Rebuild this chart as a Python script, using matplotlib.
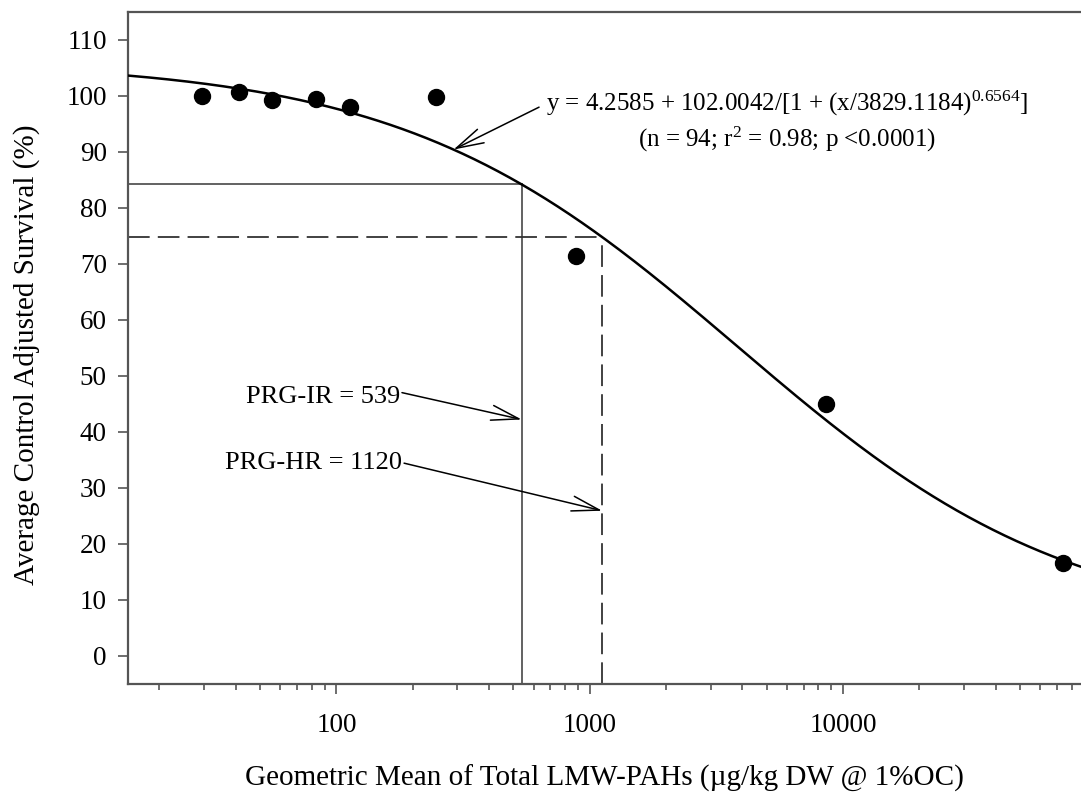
import numpy as np
import matplotlib
matplotlib.use("Agg")
import matplotlib.pyplot as plt
from matplotlib.ticker import LogLocator, FuncFormatter, NullFormatter, FixedLocator

plt.rcParams['font.family'] = ['Liberation Serif', 'DejaVu Serif']
plt.rcParams['mathtext.fontset'] = 'custom'
plt.rcParams['mathtext.rm'] = 'Liberation Serif'
plt.rcParams['mathtext.it'] = 'Liberation Serif:italic'

# data
conc = [29.4, 41.4, 55.7, 82.8, 113, 248, 882, 8590, 74000]
survival = [100.0, 100.7, 99.3, 99.4, 98.0, 99.8, 71.4, 44.9, 16.6]

# fit parameters (from the equation shown on the chart)
fit_a, fit_b, fit_c, fit_d = 4.2585, 102.0042, 3829.1184, 0.6564
prg_ir = 539
prg_hr = 1120

y_ticks = list(range(0, 111, 10))

def fit(x):
    x = np.asarray(x, dtype=float)
    return fit_a + fit_b / (1 + (x / fit_c) ** fit_d)

W, H = 1081, 798
fig = plt.figure(figsize=(W / 100, H / 100), dpi=100)
left, right, top, bottom = 127.7, 1081, 12, 683.7
aw, ah = right - left, bottom - top
ax = fig.add_axes([left / W, 1 - bottom / H, aw / W, ah / H])

def px(xp, yp):
    """figure pixel position -> figure fraction"""
    return xp / W, 1 - yp / H

spine_col = '#555555'
ax.set_xscale('log')
ax.set_xlim(15, 87000)
ax.set_ylim(-5, 115)

xs = np.logspace(np.log10(15), np.log10(87000), 400)
ax.plot(xs, fit(xs), color='black', lw=1.8, zorder=3)
ax.plot(conc, survival, 'o', color='black', ms=11.5, zorder=4)

y_ir = float(fit(prg_ir))
y_hr = float(fit(prg_hr))
ax.plot([15, prg_ir], [y_ir, y_ir], color=spine_col, lw=1.3, zorder=2)
ax.plot([prg_ir, prg_ir], [-5, y_ir], color=spine_col, lw=1.3, zorder=2)
ax.plot([15, prg_hr], [y_hr, y_hr], color='#333333', lw=1.3, dashes=(12, 4.5), zorder=2)
ax.plot([prg_hr, prg_hr], [-5, y_hr], color='#333333', lw=1.3, dashes=(12, 4.5), zorder=2)

for s in ['left', 'bottom', 'top']:
    ax.spines[s].set_color(spine_col)
    ax.spines[s].set_linewidth(1.6)
ax.spines['right'].set_visible(False)

ax.yaxis.set_major_locator(FixedLocator(y_ticks))
ax.xaxis.set_major_locator(LogLocator(base=10))
ax.xaxis.set_minor_locator(LogLocator(base=10, subs=np.arange(2, 10)))
ax.xaxis.set_major_formatter(FuncFormatter(lambda v, p: f"{v:g}"))
ax.xaxis.set_minor_formatter(NullFormatter())

ax.tick_params(axis='both', which='major', direction='out', length=7, width=1.2,
               color=spine_col, labelsize=19.5, labelcolor='black')
ax.tick_params(axis='x', which='major', pad=14)
ax.tick_params(axis='y', which='major', pad=8)
ax.tick_params(axis='x', which='minor', direction='out', length=4, width=1.2, color=spine_col)

ax.set_xlabel('Geometric Mean of Total LMW-PAHs (µg/kg DW @ 1%OC)', fontsize=21)
ax.xaxis.label.set_va('center')
ax.xaxis.set_label_coords(0.5, -(778 - bottom) / ah)
ax.set_ylabel('Average Control Adjusted Survival (%)', fontsize=21)
ax.yaxis.label.set_va('center')
ax.yaxis.set_label_coords((27 - left) / aw, (bottom - 355) / ah)

arrow = dict(arrowstyle='->,head_length=1.1,head_width=0.3', mutation_scale=18,
             color='black', lw=1.1, shrinkA=0, shrinkB=0)

# equation annotation
eq_x = 290
ax.annotate('', xy=(eq_x, float(fit(eq_x))), xytext=(631, 98.0), arrowprops=arrow)
fig.text(*px(787, 103), r'y = 4.2585 + 102.0042/[1 + (x/3829.1184)$^{\mathrm{0.6564}}$]',
         ha='center', va='center', fontsize=18)
fig.text(*px(787, 139), r'(n = 94; r$^{\mathrm{2}}$ = 0.98; p <0.0001)',
         ha='center', va='center', fontsize=18)

# PRG annotations
fig.text(*px(400, 397), 'PRG-IR = 539', ha='right', va='center', fontsize=19)
ax.annotate('', xy=(prg_ir, 42.2), xytext=(181.5, 47.0), arrowprops=arrow)
fig.text(*px(402, 463), 'PRG-HR = 1120', ha='right', va='center', fontsize=19)
ax.annotate('', xy=(prg_hr, 25.9), xytext=(185, 34.4), arrowprops=arrow)

fig.savefig('out.png', dpi=100)
